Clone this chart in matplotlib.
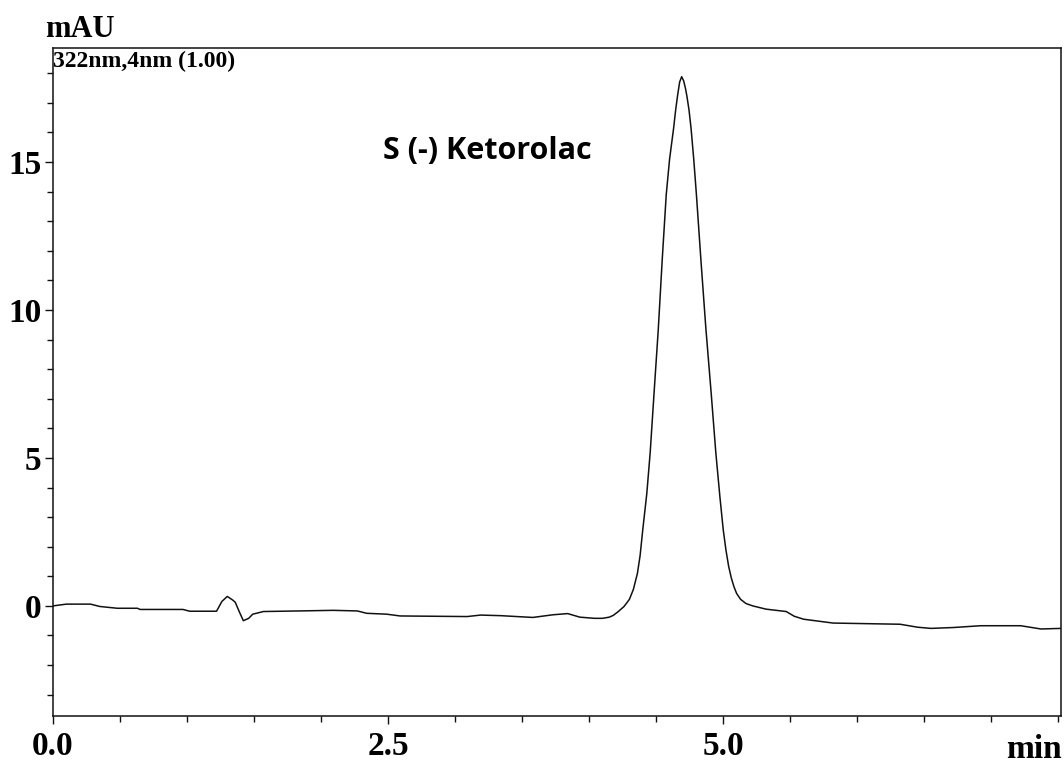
import matplotlib
matplotlib.use('Agg')
import matplotlib.pyplot as plt
from matplotlib.ticker import MultipleLocator, FixedLocator


# Dados do cromatograma (tempo em min, sinal em mAU)
tempo = [0.00, 0.10, 0.28, 0.35, 0.48, 0.63, 0.65, 0.97, 1.02, 1.22,
         1.26, 1.30, 1.34, 1.36, 1.39, 1.42, 1.46, 1.49, 1.57, 1.84,
         2.09, 2.27, 2.34, 2.49, 2.59, 3.09, 3.19, 3.34, 3.58, 3.73,
         3.84, 3.93, 4.04, 4.10, 4.15, 4.18, 4.22, 4.26, 4.30, 4.33,
         4.36, 4.38, 4.40, 4.43, 4.455, 4.49, 4.515, 4.545, 4.575, 4.60,
         4.63, 4.645, 4.66, 4.675, 4.69, 4.705, 4.72, 4.73, 4.745, 4.76,
         4.78, 4.80, 4.835, 4.87, 4.91, 4.945, 4.975, 5.00, 5.02, 5.04,
         5.06, 5.08, 5.10, 5.13, 5.17, 5.22, 5.32, 5.47, 5.53, 5.60,
         5.82, 6.32, 6.45, 6.55, 6.72, 6.92, 7.22, 7.37, 7.52]
sinal = [0.00, 0.06, 0.06, -0.02, -0.08, -0.08, -0.12, -0.12, -0.18, -0.18,
         0.15, 0.32, 0.20, 0.12, -0.20, -0.50, -0.42, -0.28, -0.19, -0.17,
         -0.15, -0.17, -0.25, -0.28, -0.34, -0.36, -0.31, -0.33, -0.39, -0.30,
         -0.26, -0.38, -0.42, -0.42, -0.38, -0.32, -0.18, -0.02, 0.22, 0.56,
         1.10, 1.70, 2.58, 3.80, 5.17, 7.60, 9.30, 11.70, 13.90, 15.10,
         16.14, 16.75, 17.26, 17.70, 17.88, 17.74, 17.45, 17.20, 16.75, 16.14,
         15.10, 13.90, 11.60, 9.41, 7.20, 5.17, 3.70, 2.58, 1.90, 1.35,
         0.95, 0.65, 0.42, 0.22, 0.08, 0.00, -0.11, -0.19, -0.35, -0.45,
         -0.58, -0.62, -0.72, -0.76, -0.73, -0.67, -0.67, -0.78, -0.76]

rotulos_x = ['0.0', '2.5', '5.0']
ticks_x = [0.0, 2.5, 5.0]
ticks_y = [0, 5, 10, 15]

fonte_serif = 'Liberation Serif'

fig = plt.figure(figsize=(10.64, 7.64), dpi=100)
ax = fig.add_axes([53 / 1064, 48 / 764, 1008 / 1064, 668 / 764])

ax.plot(tempo, sinal, color='#111111', linewidth=1.1)

ax.set_xlim(0, 7.52)
ax.set_ylim(-3.72, 18.85)

# Ticks
ax.xaxis.set_major_locator(FixedLocator(ticks_x))
ax.xaxis.set_minor_locator(MultipleLocator(0.5))
ax.yaxis.set_major_locator(FixedLocator(ticks_y))
ax.yaxis.set_minor_locator(MultipleLocator(1))
ax.set_xticklabels(rotulos_x)
ax.set_yticklabels([str(v) for v in ticks_y])
ax.tick_params(axis='both', which='both', direction='out', color='#111111', width=1.0)
ax.tick_params(axis='both', which='major', length=5.5)
ax.tick_params(axis='both', which='minor', length=4)
ax.tick_params(axis='x', which='major', pad=5)
ax.tick_params(axis='y', which='major', pad=3)
for rotulo in ax.get_xticklabels() + ax.get_yticklabels():
    rotulo.set_fontfamily(fonte_serif)
    rotulo.set_fontweight('bold')
    rotulo.set_fontsize(24)

for lado in ax.spines.values():
    lado.set_linewidth(1.1)
    lado.set_color('#111111')

# Textos
fig.text(45 / 1064, 1 - 37 / 764, 'mAU', family=fonte_serif, fontweight='bold',
         fontsize=22, ha='left', va='baseline')
fig.text(53 / 1064, 1 - 67 / 764, '322nm,4nm (1.00)', family=fonte_serif, fontweight='bold',
         fontsize=17, ha='left', va='baseline')
fig.text(1062 / 1064, 1 - 758 / 764, 'min', family=fonte_serif, fontweight='bold',
         fontsize=24, ha='right', va='baseline')
ax.text(3.24, 15.1, 'S (-) Ketorolac', family='Open Sans', fontweight='bold',
        fontsize=22, ha='center', va='baseline')

plt.savefig('out.png', dpi=100)
